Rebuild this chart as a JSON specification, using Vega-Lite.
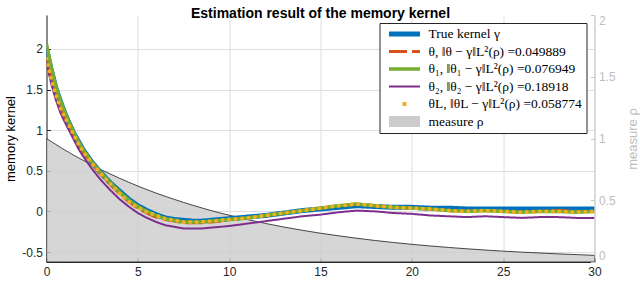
{
  "$schema": "https://vega.github.io/schema/vega-lite/v6.json",
  "width": 548,
  "height": 247,
  "autosize": {"type": "none"},
  "padding": {"left": 46.5, "top": 15, "right": 45.5, "bottom": 21},
  "background": "white",
  "title": {"text": "Estimation result of the memory kernel", "font": "Liberation Sans", "fontSize": 14, "fontWeight": "bold", "color": "#000000", "offset": 2, "dy": 9, "anchor": "middle"},
  "data": {"values": [
    {"x": 0, "g": 2.00, "t": 1.88, "t1": 2.06, "t2": 1.83, "tl": 1.88, "rho": 1.000},
    {"x": 0.25, "g": 1.75, "t": 1.63, "t1": 1.78, "t2": 1.58, "tl": 1.64, "rho": 0.976},
    {"x": 0.5, "g": 1.53, "t": 1.43, "t1": 1.55, "t2": 1.38, "tl": 1.44, "rho": 0.953},
    {"x": 0.75, "g": 1.36, "t": 1.27, "t1": 1.37, "t2": 1.22, "tl": 1.28, "rho": 0.930},
    {"x": 1, "g": 1.21, "t": 1.15, "t1": 1.22, "t2": 1.10, "tl": 1.16, "rho": 0.907},
    {"x": 1.25, "g": 1.08, "t": 1.04, "t1": 1.09, "t2": 0.99, "tl": 1.05, "rho": 0.886},
    {"x": 1.5, "g": 0.96, "t": 0.93, "t1": 0.97, "t2": 0.88, "tl": 0.94, "rho": 0.864},
    {"x": 1.75, "g": 0.86, "t": 0.82, "t1": 0.86, "t2": 0.77, "tl": 0.83, "rho": 0.844},
    {"x": 2, "g": 0.76, "t": 0.73, "t1": 0.76, "t2": 0.68, "tl": 0.74, "rho": 0.824},
    {"x": 2.5, "g": 0.60, "t": 0.58, "t1": 0.60, "t2": 0.52, "tl": 0.59, "rho": 0.784},
    {"x": 3, "g": 0.47, "t": 0.45, "t1": 0.47, "t2": 0.38, "tl": 0.46, "rho": 0.747},
    {"x": 3.5, "g": 0.35, "t": 0.33, "t1": 0.35, "t2": 0.26, "tl": 0.34, "rho": 0.712},
    {"x": 4, "g": 0.25, "t": 0.22, "t1": 0.24, "t2": 0.15, "tl": 0.22, "rho": 0.678},
    {"x": 4.5, "g": 0.15, "t": 0.12, "t1": 0.14, "t2": 0.06, "tl": 0.12, "rho": 0.646},
    {"x": 5, "g": 0.07, "t": 0.04, "t1": 0.06, "t2": -0.02, "tl": 0.05, "rho": 0.615},
    {"x": 5.5, "g": 0.01, "t": -0.02, "t1": 0.00, "t2": -0.08, "tl": -0.01, "rho": 0.586},
    {"x": 6, "g": -0.04, "t": -0.07, "t1": -0.05, "t2": -0.13, "tl": -0.05, "rho": 0.558},
    {"x": 6.5, "g": -0.08, "t": -0.10, "t1": -0.09, "t2": -0.17, "tl": -0.09, "rho": 0.532},
    {"x": 7, "g": -0.10, "t": -0.12, "t1": -0.11, "t2": -0.19, "tl": -0.11, "rho": 0.507},
    {"x": 7.5, "g": -0.11, "t": -0.14, "t1": -0.13, "t2": -0.21, "tl": -0.13, "rho": 0.483},
    {"x": 8, "g": -0.12, "t": -0.14, "t1": -0.13, "t2": -0.21, "tl": -0.13, "rho": 0.460},
    {"x": 8.5, "g": -0.12, "t": -0.14, "t1": -0.13, "t2": -0.21, "tl": -0.13, "rho": 0.438},
    {"x": 9, "g": -0.11, "t": -0.13, "t1": -0.12, "t2": -0.20, "tl": -0.12, "rho": 0.417},
    {"x": 9.5, "g": -0.10, "t": -0.12, "t1": -0.11, "t2": -0.19, "tl": -0.11, "rho": 0.397},
    {"x": 10, "g": -0.09, "t": -0.10, "t1": -0.10, "t2": -0.18, "tl": -0.10, "rho": 0.379},
    {"x": 11, "g": -0.07, "t": -0.08, "t1": -0.08, "t2": -0.15, "tl": -0.08, "rho": 0.344},
    {"x": 12, "g": -0.05, "t": -0.05, "t1": -0.05, "t2": -0.12, "tl": -0.05, "rho": 0.312},
    {"x": 13, "g": -0.02, "t": -0.02, "t1": -0.02, "t2": -0.09, "tl": -0.02, "rho": 0.283},
    {"x": 14, "g": 0.01, "t": 0.01, "t1": 0.01, "t2": -0.06, "tl": 0.01, "rho": 0.257},
    {"x": 15, "g": 0.03, "t": 0.04, "t1": 0.04, "t2": -0.04, "tl": 0.04, "rho": 0.233},
    {"x": 16, "g": 0.05, "t": 0.07, "t1": 0.07, "t2": -0.01, "tl": 0.07, "rho": 0.212},
    {"x": 17, "g": 0.07, "t": 0.09, "t1": 0.09, "t2": 0.01, "tl": 0.09, "rho": 0.192},
    {"x": 18, "g": 0.06, "t": 0.07, "t1": 0.07, "t2": 0.00, "tl": 0.07, "rho": 0.174},
    {"x": 19, "g": 0.05, "t": 0.05, "t1": 0.05, "t2": -0.02, "tl": 0.05, "rho": 0.158},
    {"x": 20, "g": 0.05, "t": 0.04, "t1": 0.04, "t2": -0.03, "tl": 0.04, "rho": 0.143},
    {"x": 21, "g": 0.04, "t": 0.03, "t1": 0.03, "t2": -0.05, "tl": 0.03, "rho": 0.130},
    {"x": 22, "g": 0.04, "t": 0.01, "t1": 0.01, "t2": -0.06, "tl": 0.01, "rho": 0.118},
    {"x": 23, "g": 0.03, "t": 0.00, "t1": 0.00, "t2": -0.07, "tl": 0.00, "rho": 0.107},
    {"x": 24, "g": 0.03, "t": 0.01, "t1": 0.01, "t2": -0.06, "tl": 0.01, "rho": 0.097},
    {"x": 25, "g": 0.03, "t": 0.00, "t1": 0.00, "t2": -0.07, "tl": 0.00, "rho": 0.088},
    {"x": 26, "g": 0.03, "t": -0.01, "t1": -0.01, "t2": -0.08, "tl": -0.01, "rho": 0.080},
    {"x": 27, "g": 0.03, "t": 0.00, "t1": 0.00, "t2": -0.07, "tl": 0.00, "rho": 0.073},
    {"x": 28, "g": 0.03, "t": 0.01, "t1": 0.00, "t2": -0.07, "tl": 0.00, "rho": 0.066},
    {"x": 29, "g": 0.03, "t": 0.00, "t1": -0.01, "t2": -0.08, "tl": -0.01, "rho": 0.060},
    {"x": 30, "g": 0.03, "t": 0.00, "t1": 0.00, "t2": -0.08, "tl": 0.00, "rho": 0.054}
  ]},
  "transform": [{"fold": ["g", "t", "t1", "t2", "tl", "rho"], "as": ["series", "v"]}],
  "encoding": {
    "x": {"field": "x", "type": "quantitative",
      "scale": {"domain": [0, 30], "nice": false, "zero": false},
      "axis": {"values": [0, 5, 10, 15, 20, 25, 30], "title": null, "grid": true, "gridColor": "#dedede",
        "domainColor": "#262626", "tickColor": "#262626", "tickSize": -4, "labelPadding": 8,
        "labelFont": "Liberation Sans", "labelFontSize": 12, "labelColor": "#262626", "labelFlush": false, "labelOverlap": false}}
  },
  "layer": [
    {
      "transform": [{"filter": "datum.series === 'rho'"}],
      "mark": {"type": "area", "fillOpacity": 0.8, "stroke": "#1a1a1a", "strokeWidth": 0.8, "clip": true},
      "encoding": {
        "y": {"field": "v", "type": "quantitative",
          "scale": {"domain": [0, 2], "nice": false, "zero": false},
          "axis": {"orient": "right", "values": [0, 0.5, 1, 1.5, 2], "labelExpr": "'' + datum.value", "title": "measure ρ", "grid": false,
            "domainColor": "#c8c8c8", "tickColor": "#c8c8c8", "tickSize": -4, "labelPadding": 8, "labelFlush": true,
            "labelFont": "Liberation Sans", "labelFontSize": 12, "labelColor": "#bdbdbd",
            "titleFont": "Liberation Sans", "titleFontSize": 13, "titleFontWeight": "normal", "titleColor": "#bdbdbd",
            "titleAngle": -90, "titleX": 37.5, "titleBaseline": "middle"}},
        "color": {"field": "series", "type": "nominal",
          "scale": {"domain": ["g", "t", "t1", "t2", "tl", "rho"], "range": ["#0072BD", "#D95319", "#77AC30", "#7E2F8E", "#EDB120", "#cccccc"]},
          "legend": {"title": null,
            "labelExpr": "datum.value === 'g' ? 'True kernel γ' : datum.value === 't' ? 'θ, ‖θ − γ‖L²(ρ) =0.049889' : datum.value === 't1' ? 'θ₁, ‖θ₁ − γ‖L²(ρ) =0.076949' : datum.value === 't2' ? 'θ₂, ‖θ₂ − γ‖L²(ρ) =0.18918' : datum.value === 'tl' ? 'θL, ‖θL − γ‖L²(ρ) =0.058774' : 'measure ρ'"}}
      }
    },
    {
      "transform": [{"filter": "indexof(['g','t','t1','t2'], datum.series) >= 0"}],
      "mark": {"type": "line", "strokeCap": "butt", "strokeJoin": "round", "clip": true},
      "encoding": {
        "y": {"field": "v", "type": "quantitative",
          "scale": {"domain": [-0.623, 2.418], "nice": false, "zero": false},
          "axis": {"orient": "left", "values": [-0.5, 0, 0.5, 1, 1.5, 2], "labelExpr": "'' + datum.value", "title": "memory kernel", "grid": true, "gridColor": "#dedede",
            "domainColor": "#262626", "tickColor": "#262626", "tickSize": -4, "labelPadding": 8,
            "labelFont": "Liberation Sans", "labelFontSize": 12, "labelColor": "#262626",
            "titleFont": "Liberation Sans", "titleFontSize": 13, "titleFontWeight": "normal", "titleColor": "#000000",
            "titleAngle": -90, "titleX": -36.5, "titleBaseline": "middle"}},
        "color": {"field": "series", "type": "nominal",
          "scale": {"domain": ["g", "t", "t1", "t2", "tl", "rho"], "range": ["#0072BD", "#D95319", "#77AC30", "#7E2F8E", "#EDB120", "#cccccc"]},
          "legend": {"title": null}},
        "strokeWidth": {"field": "series", "type": "nominal",
          "scale": {"type": "ordinal", "domain": ["g", "t", "t1", "t2", "tl", "rho"], "range": [5, 3, 3.5, 2, 4, 11]},
          "legend": {"title": null}},
        "strokeDash": {"field": "series", "type": "nominal",
          "scale": {"domain": ["g", "t", "t1", "t2", "tl", "rho"], "range": [[1, 0], [18, 5], [1, 0], [1, 0], [0, 13.5, 4, 100], [1, 0]]},
          "legend": {"title": null}}
      }
    },
    {
      "transform": [{"filter": "datum.series === 'tl'"}],
      "mark": {"type": "line", "strokeCap": "round", "strokeDash": [0, 6.5], "strokeWidth": 4, "clip": true},
      "encoding": {
        "y": {"field": "v", "type": "quantitative",
          "scale": {"domain": [-0.623, 2.418], "nice": false, "zero": false},
          "axis": null},
        "color": {"field": "series", "type": "nominal",
          "scale": {"domain": ["g", "t", "t1", "t2", "tl", "rho"], "range": ["#0072BD", "#D95319", "#77AC30", "#7E2F8E", "#EDB120", "#cccccc"]},
          "legend": {"title": null}}
      }
    }
  ],
  "resolve": {"scale": {"y": "independent"}},
  "config": {
    "view": {"stroke": null},
    "legend": {"orient": "top-right", "offset": 8, "padding": 4, "fillColor": "#ffffff", "strokeColor": "#262626",
      "labelFont": "Liberation Serif", "labelFontSize": 13.5, "labelColor": "#000000", "labelLimit": 400,
      "symbolType": "stroke", "symbolSize": 961, "labelOffset": 3, "rowPadding": 3.5, "clipHeight": 14}
  }
}
